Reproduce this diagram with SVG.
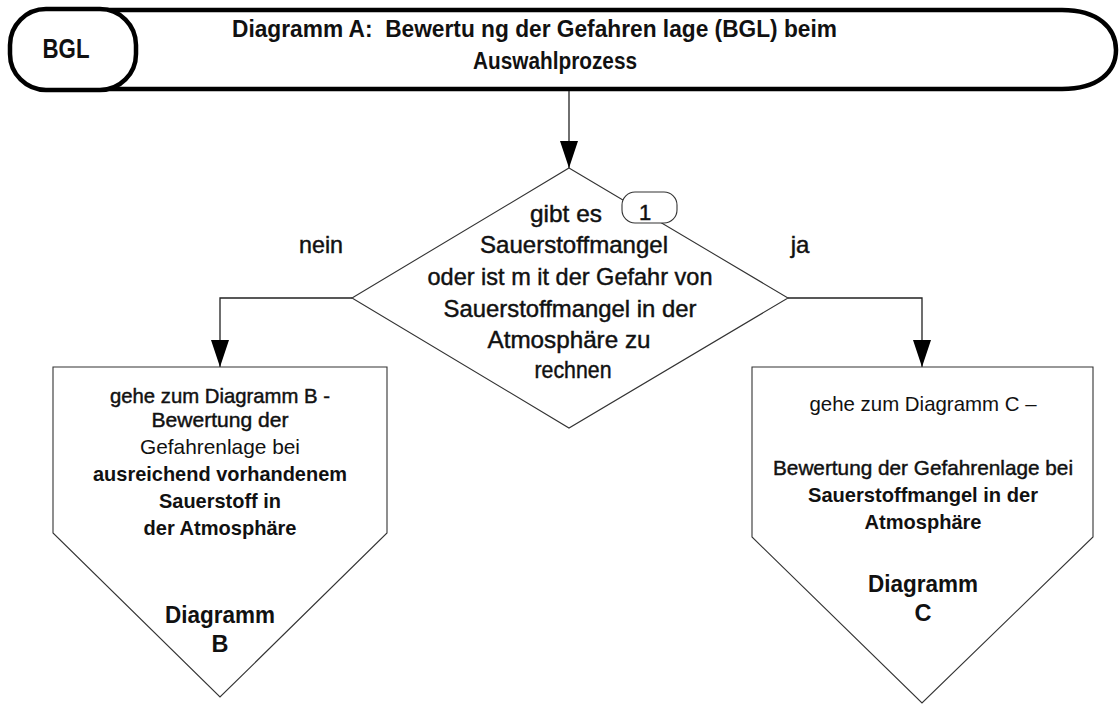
<svg xmlns="http://www.w3.org/2000/svg" width="1120" height="704" viewBox="0 0 1120 704">
<style>
  text { font-family: "Liberation Sans", Arial, sans-serif; fill: #111; }
  .hdr { fill: #fff; stroke: #000; stroke-width: 4.5; }
  .shape { fill: #fff; stroke: #333; stroke-width: 1.1; }
  .conn { fill: none; stroke: #222; stroke-width: 1.3; }
  .title { font-size: 23px; font-weight: bold; }
  .dia { font-size: 24.5px; text-anchor: middle; }
  .box { font-size: 21px; text-anchor: middle; }
  .med { stroke: #111; stroke-width: 0.45; }
  .b { font-weight: bold; }
  .big { font-size: 23.5px; font-weight: bold; text-anchor: middle; }
  .lbl { font-size: 24px; text-anchor: middle; }
</style>
<defs>
  <marker id="arrow" markerUnits="userSpaceOnUse" markerWidth="27" markerHeight="18" refX="27" refY="9" orient="auto">
    <path d="M0,0 L27,9 L0,18 Z" fill="#000"/>
  </marker>
</defs>
<rect x="0" y="0" width="1120" height="704" fill="#fff"/>

<g id="header">
  <path class="hdr" d="M70,10 H1062 C1098,10 1116,28 1116,50 C1116,72 1098,89 1062,89 H70 Z"/>
  <text class="title" x="232" y="37" textLength="605" lengthAdjust="spacingAndGlyphs" xml:space="preserve">Diagramm A:  Bewertu ng der Gefahren lage (BGL) beim</text>
  <text class="title" x="473" y="69" textLength="164" lengthAdjust="spacingAndGlyphs">Auswahlprozess</text>
</g>
<g id="bgl">
  <rect class="hdr" x="10" y="9" width="126" height="81" rx="36" ry="36"/>
  <text x="66" y="58" font-size="27" font-weight="bold" text-anchor="middle" textLength="47" lengthAdjust="spacingAndGlyphs">BGL</text>
</g>

<g id="connectors">
  <path class="conn" d="M569,91 V168" marker-end="url(#arrow)"/>
  <path class="conn" d="M352,298 H220 V367" marker-end="url(#arrow)"/>
  <path class="conn" d="M788,298 H922 V367" marker-end="url(#arrow)"/>
</g>

<g id="decision">
  <polygon class="shape" points="569,168 788,298 569,428 352,298"/>
  <text class="dia med" x="566" y="222" textLength="72" lengthAdjust="spacingAndGlyphs">gibt es</text>
  <text class="dia med" x="574" y="253" textLength="188" lengthAdjust="spacingAndGlyphs">Sauerstoffmangel</text>
  <text class="dia med" x="570" y="285" textLength="285" lengthAdjust="spacingAndGlyphs">oder ist m it der Gefahr von</text>
  <text class="dia med" x="570" y="317" textLength="253" lengthAdjust="spacingAndGlyphs">Sauerstoffmangel in der</text>
  <text class="dia med" x="569" y="348" textLength="163" lengthAdjust="spacingAndGlyphs">Atmosphäre zu</text>
  <text class="dia med" x="573" y="378" textLength="77" lengthAdjust="spacingAndGlyphs">rechnen</text>
</g>
<g id="badge1">
  <rect class="shape" x="622" y="192" width="55" height="31" rx="13" ry="13" stroke="#222"/>
  <text class="med" x="645" y="220" font-size="22" text-anchor="middle">1</text>
</g>

<g id="label-nein">
  <text class="lbl med" x="321" y="253" textLength="44" lengthAdjust="spacingAndGlyphs">nein</text>
</g>
<g id="label-ja">
  <text class="lbl med" x="800" y="253">ja</text>
</g>

<g id="diagramB">
  <polygon class="shape" points="53,367 387,367 387,533 220,697 53,533"/>
  <text class="box med" x="220" y="403" textLength="220" lengthAdjust="spacingAndGlyphs">gehe zum Diagramm B -</text>
  <text class="box med" x="220" y="427" textLength="137" lengthAdjust="spacingAndGlyphs">Bewertung der</text>
  <text class="box" x="220" y="454" textLength="160" lengthAdjust="spacingAndGlyphs">Gefahrenlage bei</text>
  <text class="box b" x="220" y="481" textLength="254" lengthAdjust="spacingAndGlyphs">ausreichend vorhandenem</text>
  <text class="box b" x="220" y="508" textLength="122" lengthAdjust="spacingAndGlyphs">Sauerstoff in</text>
  <text class="box b" x="220" y="535" textLength="153" lengthAdjust="spacingAndGlyphs">der Atmosphäre</text>
  <text class="big" x="220" y="623" textLength="110" lengthAdjust="spacingAndGlyphs">Diagramm</text>
  <text class="big" x="220" y="652">B</text>
</g>

<g id="diagramC">
  <polygon class="shape" points="752,367 1093,367 1093,537 922,703 752,537"/>
  <text class="box" x="923" y="411" textLength="227" lengthAdjust="spacingAndGlyphs">gehe zum Diagramm C –</text>
  <text class="box med" x="923" y="475" textLength="300" lengthAdjust="spacingAndGlyphs">Bewertung der Gefahrenlage bei</text>
  <text class="box b" x="923" y="502" textLength="230" lengthAdjust="spacingAndGlyphs">Sauerstoffmangel in der</text>
  <text class="box b" x="923" y="529" textLength="117" lengthAdjust="spacingAndGlyphs">Atmosphäre</text>
  <text class="big" x="923" y="592" textLength="110" lengthAdjust="spacingAndGlyphs">Diagramm</text>
  <text class="big" x="923" y="621">C</text>
</g>
</svg>
